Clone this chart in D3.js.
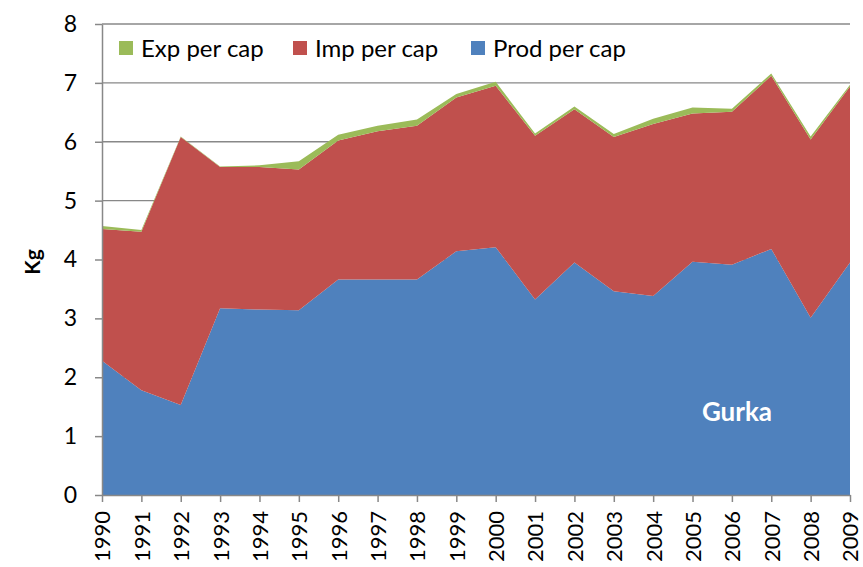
<!DOCTYPE html>
<html><head><meta charset="utf-8">
<script src="https://cdn.jsdelivr.net/npm/d3@7"></script>
<style>body{margin:0;background:#fff}svg{display:block}text{font-family:Lato,"Open Sans",sans-serif}</style>
</head><body><svg id="c" width="863" height="567"></svg>
<script>
const years = [1990,1991,1992,1993,1994,1995,1996,1997,1998,1999,2000,2001,2002,2003,2004,2005,2006,2007,2008,2009];
const prodPerCap = [2.28,1.78,1.53,3.17,3.15,3.14,3.66,3.66,3.66,4.14,4.21,3.32,3.95,3.46,3.38,3.96,3.91,4.18,3.01,3.95];
const impPerCap  = [2.24,2.69,4.55,2.40,2.42,2.39,2.36,2.52,2.61,2.61,2.74,2.78,2.60,2.62,2.92,2.52,2.60,2.94,3.03,2.99];
const expPerCap  = [0.05,0.03,0.01,0.01,0.03,0.14,0.10,0.09,0.11,0.06,0.07,0.04,0.05,0.05,0.09,0.10,0.05,0.04,0.05,0.03];
const seriesNames = ["Prod per cap","Imp per cap","Exp per cap"];
const legendOrder = ["Exp per cap","Imp per cap","Prod per cap"];
const colors = {"Prod per cap":"#4F81BD","Imp per cap":"#C0504D","Exp per cap":"#9BBB59"};
const yTicks = [0,1,2,3,4,5,6,7,8];
const yTitle = "Kg";
const areaLabel = "Gurka";

const svg = d3.select("#c");
const m = {l:102, r:850, t:24, b:495};
const x = d3.scaleLinear().domain([years[0], years[years.length-1]]).range([m.l, m.r]);
const y = d3.scaleLinear().domain([0,8]).range([m.b, m.t]);

const table = years.map((yr,i)=>({year:yr,"Prod per cap":prodPerCap[i],"Imp per cap":impPerCap[i],"Exp per cap":expPerCap[i]}));
const stacked = d3.stack().keys(seriesNames)(table);

// gridlines
svg.append("g").selectAll("line").data(yTicks.filter(d=>d>0)).join("line")
  .attr("x1",m.l).attr("x2",m.r).attr("y1",d=>y(d)).attr("y2",d=>y(d))
  .attr("stroke","#888").attr("stroke-width",1.3);

const area = d3.area().x(d=>x(d.data.year)).y0(d=>y(d[0])).y1(d=>y(d[1]));
svg.append("g").selectAll("path").data(stacked).join("path")
  .attr("d",area).attr("fill",d=>colors[d.key]);

// axes
const gy = svg.append("g").attr("transform",`translate(${m.l},0)`)
  .call(d3.axisLeft(y).tickValues(yTicks).tickSize(7).tickSizeOuter(0).tickPadding(18));
const gx = svg.append("g").attr("transform",`translate(0,${m.b})`)
  .call(d3.axisBottom(x).tickValues(years).tickFormat(d3.format("d")).tickSize(7).tickSizeOuter(0));
[gx,gy].forEach(g=>{g.selectAll("path,line").attr("stroke","#888").attr("stroke-width",1.5);});
gy.selectAll("text").attr("font-size",23).attr("fill","#000").attr("font-family","Lato");
gx.selectAll("text").attr("font-size",22).attr("fill","#000").attr("font-family","Lato")
  .attr("transform","rotate(-90)").attr("text-anchor","end").attr("dy","0.36em").attr("x",-16).attr("y",0);

svg.append("text").attr("transform","translate(40,262) rotate(-90)").attr("text-anchor","middle")
  .attr("font-size",21).attr("font-weight","bold").text(yTitle);

// legend
const legX = [119,293,471];
const lg = svg.append("g").selectAll("g").data(legendOrder).join("g")
  .attr("transform",(d,i)=>`translate(${legX[i]},41)`);
lg.append("rect").attr("width",14).attr("height",14).attr("fill",d=>colors[d]);
lg.append("text").attr("x",22).attr("y",7).attr("dy","0.36em").attr("font-size",24).text(d=>d);

svg.append("text").attr("x",737).attr("y",421).attr("text-anchor","middle")
  .attr("font-size",26).attr("font-weight","bold").attr("fill","#fff").text(areaLabel);
</script></body></html>
